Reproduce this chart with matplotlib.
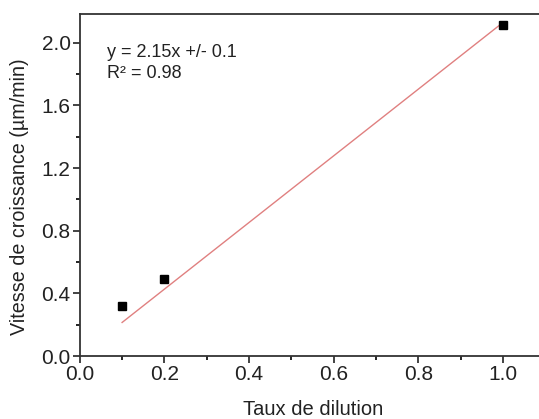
import matplotlib.pyplot as plt
from matplotlib.ticker import MultipleLocator

plt.rcParams['font.family'] = ['Liberation Sans', 'DejaVu Sans']

# measured data
taux = [0.1, 0.2, 1.0]
vitesse = [0.32, 0.495, 2.115]

# linear fit line (as drawn)
fit_x = [0.1, 1.0]
fit_y = [0.215, 2.13]

fig = plt.figure(figsize=(5.39, 4.19), dpi=100)
ax = fig.add_axes([0.148, 0.150, 0.852, 0.817])

ax.plot(fit_x, fit_y, color='#e08080', lw=1)
ax.plot(taux, vitesse, 's', color='black', ms=5.3)

ax.set_xlim(0.0, 1.085)
ax.set_ylim(0.0, 2.185)
ax.xaxis.set_major_locator(MultipleLocator(0.2))
ax.xaxis.set_minor_locator(MultipleLocator(0.1))
ax.yaxis.set_major_locator(MultipleLocator(0.4))
ax.yaxis.set_minor_locator(MultipleLocator(0.2))
ax.tick_params(which='major', direction='out', length=5, width=1.2, labelsize=15,
               colors='#222222', pad=1.5)
ax.tick_params(which='minor', direction='out', length=3, width=1.2)
ax.spines['right'].set_visible(False)
for s in ['left', 'bottom', 'top']:
    ax.spines[s].set_linewidth(1.3)
    ax.spines[s].set_color('#333333')

fig.text(313 / 539, 4 / 419, 'Taux de dilution', fontsize=14.5, ha='center',
         va='baseline', color='#222222')
fig.text(20 / 539, 1 - 197 / 419, 'Vitesse de croissance (µm/min)', fontsize=14.2,
         ha='center', va='center', rotation=90, color='#222222')

ax.text(0.064, 1.87, 'y = 2.15x +/- 0.1\nR² = 0.98', fontsize=13, va='center',
        linespacing=1.3, color='#222222')

fig.savefig('out.png', dpi=100)
